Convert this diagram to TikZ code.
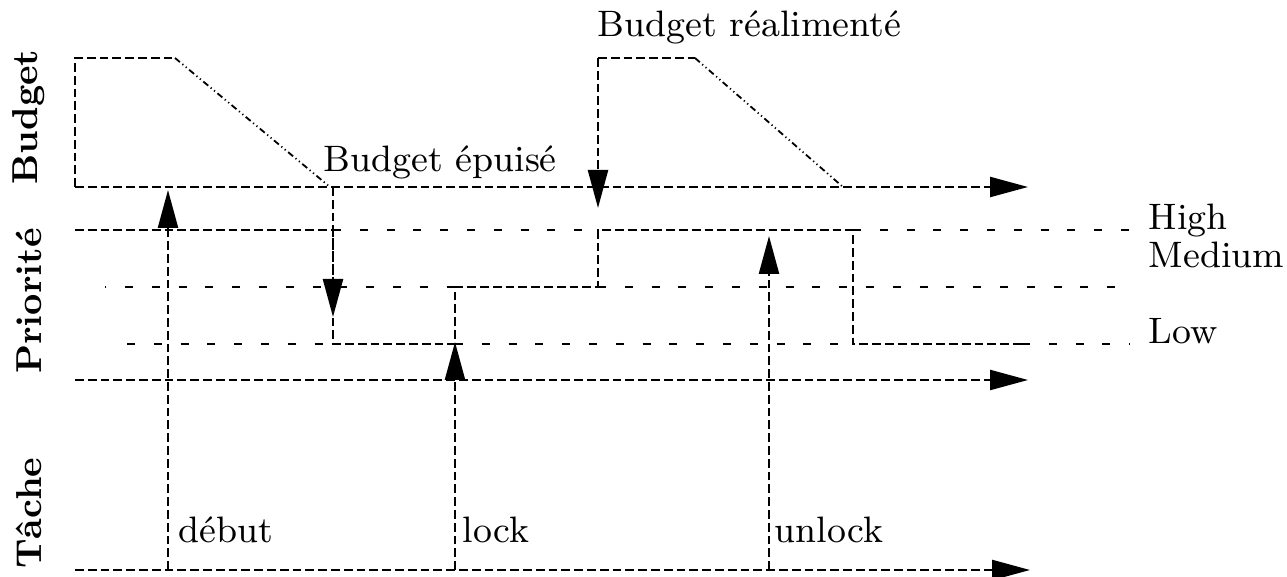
\documentclass[tikz,border=0pt]{standalone}
\usetikzlibrary{arrows.meta}
\tikzstyle{hd}=[>/.tip={Triangle[length=9.5pt,width=5pt]}]
\tikzstyle{axe}=[line width=.6pt,dash pattern=on 2.2pt off 1pt]
\tikzstyle{niv}=[line width=.6pt,dash pattern=on 2pt off 4.7pt]
\tikzstyle{pente}=[line width=.45pt,dash pattern=on 1.6pt off .8pt on .3pt off .8pt on .3pt off .8pt]
\tikzstyle{evt}=[axe,hd,->]
\tikzstyle{lbl}=[font=\bfseries\fontsize{9}{10}\selectfont,rotate=90,inner sep=0pt]
\tikzstyle{txt}=[font=\fontsize{9.2}{11}\selectfont,inner sep=0pt,anchor=base west]
\begin{document}
\begin{tikzpicture}[x=.25pt,y=-.25pt]
	\useasboundingbox (0,0) rectangle (1287,577);
	% axes
	\coordinate (b0) at (75,187);  \coordinate (bend) at (1028,187);
	\coordinate (p0) at (75,380);  \coordinate (pend) at (1028,380);
	\coordinate (t0) at (75,570);  \coordinate (tend) at (1030,570);
	\draw[evt] (b0) -- (bend);
	\draw[evt] (p0) -- (pend);
	\draw[evt] (t0) -- (tend);
	% budget
	\coordinate (b1) at (75,58);   \coordinate (b2) at (175,58);  \coordinate (b3) at (330,187);
	\coordinate (ra) at (598,58);  \coordinate (rb) at (695,58);  \coordinate (rc) at (843,187);
	\coordinate (rd) at (598,208);
	\draw[axe] (b0) -- (b1) -- (b2);
	\draw[pente] (b2) -- (b3);
	\draw[evt] (ra) -- (rd);
	\draw[axe] (ra) -- (rb);
	\draw[pente] (rb) -- (rc);
	% priorite
	\coordinate (h0) at (75,230);  \coordinate (h1) at (333,230); \coordinate (h2) at (598,230);
	\coordinate (h3) at (853,230); \coordinate (hend) at (1130,230);
	\coordinate (m0) at (105,287); \coordinate (m1) at (455,287); \coordinate (m2) at (598,287);
	\coordinate (mend) at (1130,287);
	\coordinate (l0) at (127,344); \coordinate (l1) at (333,344); \coordinate (l2) at (455,344);
	\coordinate (l3) at (853,344); \coordinate (l4) at (1022,344); \coordinate (lend) at (1130,344);
	\draw[niv] (h1) -- (h2);  \draw[niv] (h3) -- (hend);
	\draw[niv,dash phase=1.7pt] (m0) -- (m1);  \draw[niv] (m2) -- (mend);
	\draw[niv] (l0) -- (l1);  \draw[niv] (l2) -- (l3);  \draw[niv] (l4) -- (lend);
	\draw[axe] (h0) -- (h1) -- (l1) -- (l2) -- (m1) -- (m2) -- (h2) -- (h3) -- (l3) -- (l4);
	% evenements
	\coordinate (d0) at (168,570); \coordinate (d1) at (168,190);
	\coordinate (e0) at (333,187); \coordinate (e1) at (333,317);
	\coordinate (k0) at (455,570); \coordinate (k1) at (455,342);
	\coordinate (u0) at (769,570); \coordinate (u1) at (769,236);
	\draw[evt] (d0) -- (d1);
	\draw[evt] (e0) -- (e1);
	\draw[evt] (k0) -- (k1);
	\draw[evt] (u0) -- (u1);
	% textes
	\node[lbl] (lbud) at (29,117) {Budget};
	\node[lbl] (lpri) at (29,301) {Priorité};
	\node[lbl] (ltac) at (29,513) {Tâche};
	\node[txt] (trea) at (597,37)  {Budget réalimenté};
	\node[txt] (tepu) at (323,172) {Budget épuisé};
	\node[txt] (thig) at (1148,230) {High};
	\node[txt] (tmed) at (1148,268) {Medium};
	\node[txt] (tlow) at (1148,344) {Low};
	\node[txt] (tdeb) at (178,542) {début};
	\node[txt] (tloc) at (462,542) {lock};
	\node[txt] (tunl) at (774,542) {unlock};
\end{tikzpicture}
\end{document}
